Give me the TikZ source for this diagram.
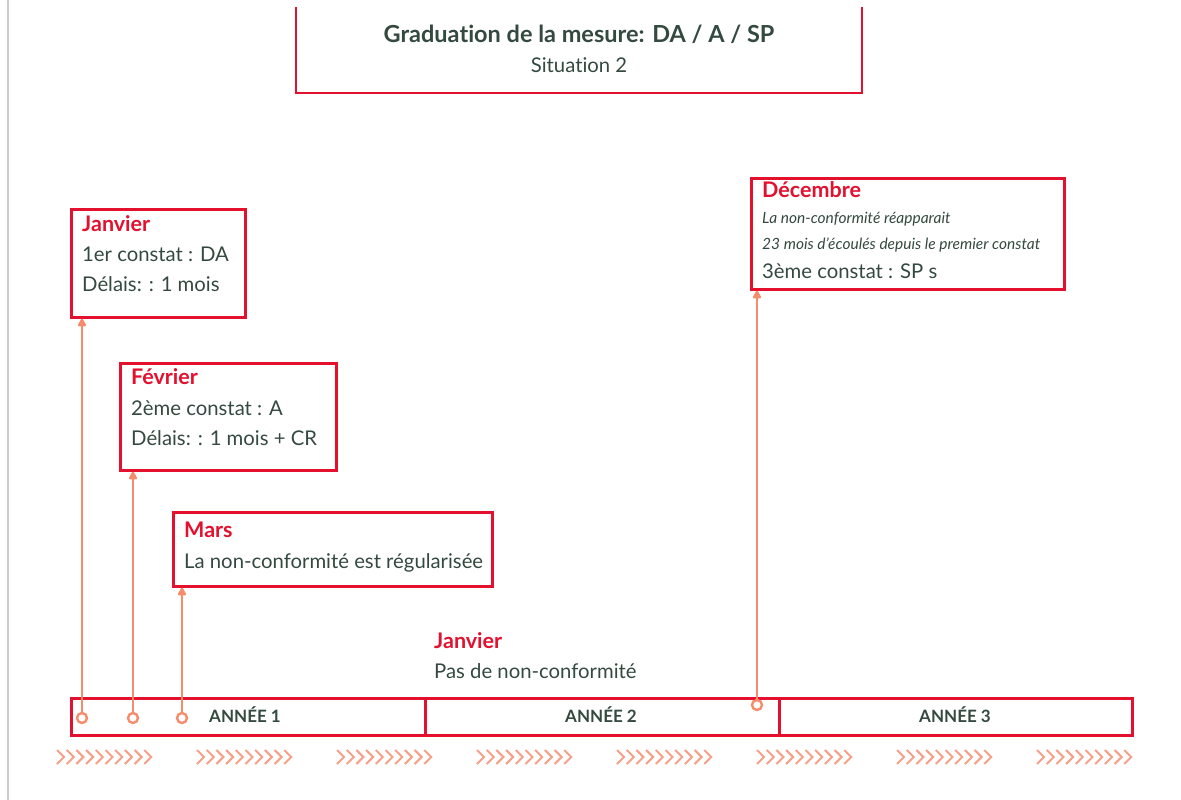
\documentclass[tikz,border=0pt]{standalone}
\usepackage{fontspec}
\setmainfont[Ligatures={NoCommon}]{Lato}
\usetikzlibrary{arrows.meta}
\definecolor{rd}{HTML}{E3102E}
\definecolor{org}{HTML}{F58C6C}
\definecolor{chev}{HTML}{F7A088}
\definecolor{txt}{HTML}{34493F}
\definecolor{gr}{HTML}{CCCCCC}
\tikzset{
  box/.style={draw=rd,line width=2.7pt,inner sep=0pt,anchor=north west},
  head/.style={anchor=base west,inner sep=0pt,text=rd,font=\fontsize{21.5}{24}\selectfont\bfseries},
  body/.style={anchor=base west,inner sep=0pt,text=txt,font=\fontsize{20.3}{22}\selectfont},
  small/.style={anchor=base west,inner sep=0pt,text=txt,font=\fontsize{15.5}{17}\selectfont\itshape},
  yr/.style={anchor=base,inner sep=0pt,text=txt,font=\fontsize{17}{19}\selectfont\bfseries},
  dot/.style={circle,draw=org,line width=2.4pt,fill=white,minimum size=10pt,inner sep=0pt},
  arr/.style={draw=org,line width=2.8pt,-{Triangle[length=9pt,width=9pt,round]}},
}
\begin{document}
\begin{tikzpicture}[x=1pt,y=-1pt]
\useasboundingbox (0,0) rectangle (1181,800);
% left gray rule
\draw[gr,line width=1.6pt] (8,0) -- (8,800);
% title box (open top)
\draw[rd,line width=2.7pt] (296,7) -- (296,93) -- (862,93) -- (862,7);
\node (t1) [anchor=base,inner sep=0pt,text=txt,font=\fontsize{23.5}{26}\selectfont\bfseries] at (579,43) {Graduation de la mesure: DA / A / SP};
\node (t2) [anchor=base,inner sep=0pt,text=txt,font=\fontsize{20.3}{22}\selectfont] at (579,73) {Situation 2};
% Janvier box
\node (bjan) [box,minimum width=174pt,minimum height=108pt] at (70,208) {};
\node (jan1) [head] at (82,231) {Janvier};
\node (jan2) [body] at (82,261) {1er constat : DA};
\node (jan3) [body] at (82,291) {Délais: : 1 mois};
% Fevrier box
\node (bfev) [box,minimum width=216pt,minimum height=107pt] at (119,362) {};
\node (fev1) [head] at (131,384) {Février};
\node (fev2) [body] at (131,415) {2ème constat : A};
\node (fev3) [body] at (131,445) {Délais: : 1 mois + CR};
% Mars box
\node (bmar) [box,minimum width=319pt,minimum height=74pt] at (172,511) {};
\node (mar1) [head] at (184,537) {Mars};
\node (mar2) [body] at (184,568) {La non-conformité est régularisée};
% Janvier (no box)
\node (jb1) [head] at (434,648) {Janvier};
\node (jb2) [body] at (434,678) {Pas de non-conformité};
% Decembre box
\node (bdec) [box,minimum width=313pt,minimum height=111pt] at (750,177) {};
\node (dec1) [head] at (762,197) {Décembre};
\node (dec2) [small] at (762,223) {La non-conformité réapparait};
\node (dec3) [small] at (762,249) {23 mois d’écoulés depuis le premier constat};
\node (dec4) [body] at (762,278) {3ème constat : SP s};
% timeline
\node (y1) [box,minimum width=354pt,minimum height=37pt] at (70,697) {};
\node (y2) [box,minimum width=354pt,minimum height=37pt] at (424,697) {};
\node (y3) [box,minimum width=353pt,minimum height=37pt] at (778,697) {};
\node (l1) [yr] at (245,722) {ANNÉE 1};
\node (l2) [yr] at (601,722) {ANNÉE 2};
\node (l3) [yr] at (955,722) {ANNÉE 3};
% ticks and arrows
\node (c1) [dot] at (82,718) {};
\node (c2) [dot] at (133,718) {};
\node (c3) [dot] at (182,718) {};
\node (c4) [dot] at (757,705) {};
\draw[arr] (c1) -- (c1 |- bjan.south);
\draw[arr] (c2) -- (c2 |- bfev.south);
\draw[arr] (c3) -- (c3 |- bmar.south);
\draw[arr] (c4) -- (c4 |- bdec.south);
% chevrons
\foreach \g in {0,...,7}{
  \foreach \k in {0,...,9}{
    \draw[chev,line width=2pt] ({57+140*\g+9.7*\k},750) -- ({64+140*\g+9.7*\k},757) -- ({57+140*\g+9.7*\k},764);
  }
}
\end{tikzpicture}
\end{document}
